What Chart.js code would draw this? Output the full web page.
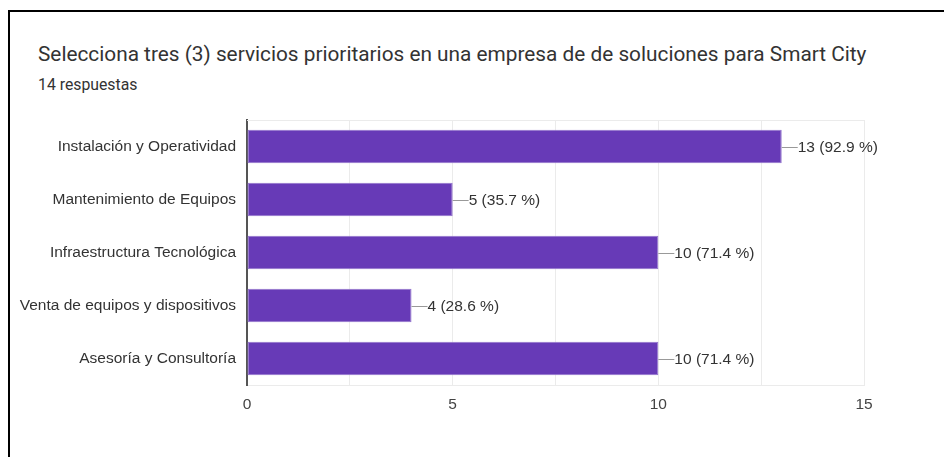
<!DOCTYPE html>
<html>
<head>
<meta charset="utf-8">
<script src="https://cdn.jsdelivr.net/npm/chart.js@4/dist/chart.umd.min.js"></script>
<style>
  body { margin: 0; background: #fff; }
  #wrap { position: relative; width: 944px; height: 457px; overflow: hidden; }
  #frame { position: absolute; left: 8px; top: 10px; width: 950px; height: 460px;
           border-left: 2px solid #000; border-top: 2px solid #000; }
  #title { position: absolute; left: 38px; top: 42px; font: 20.8px Roboto, sans-serif;
           color: #333; white-space: nowrap; }
  #subtitle { position: absolute; left: 38px; top: 75px; font: 15.8px Roboto, sans-serif;
              color: #333; white-space: nowrap; }
  canvas { position: absolute; left: 0; top: 0; }
</style>
</head>
<body>
<div id="wrap">
  <div id="frame"></div>
  <div id="title">Selecciona tres (3) servicios prioritarios en una empresa de de soluciones para Smart City</div>
  <div id="subtitle">14 respuestas</div>
  <canvas id="chart" width="944" height="457"></canvas>
</div>
<script>
const categories = [
  'Instalación y Operatividad',
  'Mantenimiento de Equipos',
  'Infraestructura Tecnológica',
  'Venta de equipos y dispositivos',
  'Asesoría y Consultoría'
]
const counts = [13, 5, 10, 4, 10]
const totalResponses = 14
const xTicks = [0, 5, 10, 15]

const labelFont = { family: "'Liberation Sans', Arial, sans-serif", size: 15.5 }

/** value labels with a short leader line */
const barLabels = {
  id: 'barLabels',
  afterDatasetsDraw(chart) {
    const ctx = chart.ctx
    const meta = chart.getDatasetMeta(0)
    ctx.save()
    ctx.font = `${labelFont.size}px ${labelFont.family}`
    ctx.textBaseline = 'middle'
    ctx.textAlign = 'left'
    meta.data.forEach((bar, i) => {
      const v = counts[i]
      const pct = (v / totalResponses * 100).toFixed(1)
      ctx.strokeStyle = '#999'
      ctx.lineWidth = 1
      ctx.beginPath()
      ctx.moveTo(bar.x, Math.round(bar.y) + 0.5)
      ctx.lineTo(bar.x + 16, Math.round(bar.y) + 0.5)
      ctx.stroke()
      ctx.fillStyle = '#333'
      ctx.fillText(`${v} (${pct} %)`, bar.x + 16, bar.y + 1)
    })
    ctx.restore()
  }
}

/** light top edge of the plot area */
const topEdge = {
  id: 'topEdge',
  beforeDatasetsDraw(chart) {
    const { ctx, chartArea } = chart
    ctx.save()
    ctx.strokeStyle = '#ebebeb'
    ctx.lineWidth = 1
    ctx.beginPath()
    ctx.moveTo(chartArea.left, chartArea.top + 0.5)
    ctx.lineTo(chartArea.right, chartArea.top + 0.5)
    ctx.stroke()
    ctx.restore()
  }
}

new Chart(document.getElementById('chart'), {
  type: 'bar',
  data: {
    labels: categories,
    datasets: [{
      data: counts,
      backgroundColor: '#673ab7',
      borderColor: '#9173cc',
      borderWidth: 1,
      borderSkipped: false,
      categoryPercentage: 1,
      barPercentage: 0.63
    }]
  },
  options: {
    indexAxis: 'y',
    responsive: false,
    animation: false,
    layout: { padding: { top: 120, right: 80, left: 0, bottom: 0 } },
    plugins: { legend: { display: false }, tooltip: { enabled: false } },
    scales: {
      x: {
        min: 0,
        max: 15,
        afterBuildTicks(scale) {
          scale.ticks = [0, 2.5, 5, 7.5, 10, 12.5, 15].map(v => ({ value: v }))
        },
        afterFit(scale) { scale.height = 72 },
        ticks: {
          padding: 10,
          color: '#444',
          font: labelFont,
          maxRotation: 0,
          autoSkip: false,
          callback: v => xTicks.includes(v) ? v : ''
        },
        grid: { color: '#ebebeb', drawTicks: false },
        border: { color: '#ebebeb' }
      },
      y: {
        afterFit(scale) { scale.width = 247 },
        ticks: { padding: 11, color: '#333', font: labelFont },
        grid: { display: false, drawTicks: false },
        border: { color: '#555', width: 2 }
      }
    }
  },
  plugins: [topEdge, barLabels]
})
</script>
</body>
</html>
